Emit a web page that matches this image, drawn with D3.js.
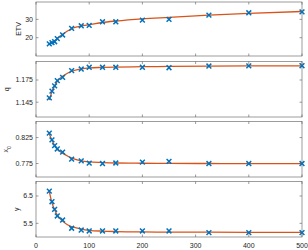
<!DOCTYPE html>
<html>
<head>
<meta charset="utf-8">
<script src="https://cdn.jsdelivr.net/npm/d3@7"></script>
<style>
  body { margin: 0; background: #fff; }
  svg { display: block; }
  text { font-family: "Liberation Sans", Arial, sans-serif; fill: #262626; }
</style>
</head>
<body>
<svg></svg>
<script>
var width = 308, height = 250;
var left = 36, right = 302;

var markerColor = "#0072BD";
var fitColor = "#D95319";
var axisColor = "#5a5a5a";

// sample sizes (shared x)
var xs = [25, 30, 35, 40, 50, 67, 85, 100, 125, 150, 200, 250, 325, 400, 500];
var xTicks = [0, 100, 200, 300, 400, 500];

// measured points
var etv = [16.6, 17.3, 17.8, 19.5, 21.5, 25.1, 26.5, 26.7, 28.7, 28.7, 29.6, 30.0, 32.3, 33.6, 34.1];
var qv  = [1.1508, 1.160, 1.167, 1.1741, 1.1786, 1.1876, 1.1898, 1.1922, 1.1922, 1.1922, 1.1922, 1.1916, 1.1939, 1.1940, 1.1943];
var x0v = [0.8335, 0.8206, 0.8096, 0.803, 0.797, 0.7835, 0.780, 0.7758, 0.775, 0.776, 0.7777, 0.779, 0.775, 0.775, 0.775];
var yv  = [6.68, 6.29, 6.01, 5.77, 5.62, 5.32, 5.255, 5.22, 5.22, 5.22, 5.22, 5.22, 5.16, 5.16, 5.16];

// fitted curves
var fitX   = [25, 30, 35, 40, 50, 60, 70, 85, 100, 125, 150, 200, 250, 325, 400, 500];
var etvFit = [16.4, 17.3, 18.4, 19.6, 21.8, 23.8, 25.3, 26.4, 27.1, 28.3, 29.1, 30.3, 31.1, 32.3, 33.3, 34.3];
var qFit   = [1.148, 1.159, 1.167, 1.173, 1.180, 1.1845, 1.1875, 1.190, 1.1913, 1.192, 1.1925, 1.193, 1.1933, 1.1937, 1.194, 1.1942];
var x0Fit  = [0.832, 0.820, 0.810, 0.803, 0.795, 0.789, 0.7845, 0.780, 0.778, 0.7768, 0.776, 0.7755, 0.7752, 0.775, 0.7748, 0.7746];
var yFit   = [6.66, 6.25, 6.0, 5.8, 5.58, 5.44, 5.36, 5.29, 5.245, 5.215, 5.2, 5.185, 5.18, 5.175, 5.172, 5.17];

var panels = [
  {label: "ETV", pts: etv, fit: etvFit, domain: [10, 39.5], ticks: [20, 30], fmt: d3.format("d"), top: 2, bottom: 56, lx: 19},
  {label: "q", pts: qv, fit: qFit, domain: [1.125, 1.2], ticks: [1.145, 1.175], fmt: d3.format(".3f"), top: 61.5, bottom: 117, lx: 7},
  {label: "x", sub: "0", pts: x0v, fit: x0Fit, domain: [0.749, 0.856], ticks: [0.775, 0.825], fmt: d3.format(".3f"), top: 121.5, bottom: 177, lx: 6},
  {label: "y", pts: yv, fit: yFit, domain: [5, 7.03], ticks: [5.5, 6.5], fmt: d3.format(".1f"), top: 181.5, bottom: 237, lx: 17}
];

var svg = d3.select("svg").attr("width", width).attr("height", height);

var x = d3.scaleLinear().domain([0, 500]).range([left, right]);

var tickLen = 2.5;

panels.forEach(function(p, i) {
  var y = d3.scaleLinear().domain(p.domain).range([p.bottom, p.top]);
  var g = svg.append("g");

  // fitted curve
  var line = d3.line()
      .x(function(d) { return x(d[0]); })
      .y(function(d) { return y(d[1]); })
      .curve(d3.curveMonotoneX);
  g.append("path")
      .datum(fitX.map(function(v, j) { return [v, p.fit[j]]; }))
      .attr("d", line)
      .attr("fill", "none")
      .attr("stroke", fitColor)
      .attr("stroke-width", 1.3);

  // markers
  var s = 2.4;
  g.selectAll(".pt")
    .data(xs.map(function(v, j) { return [v, p.pts[j]]; }))
    .enter().append("path")
      .attr("transform", function(d) { return "translate(" + x(d[0]) + "," + y(d[1]) + ")"; })
      .attr("d", "M" + (-s) + "," + (-s) + "L" + s + "," + s + "M" + (-s) + "," + s + "L" + s + "," + (-s))
      .attr("stroke", markerColor)
      .attr("stroke-width", 1.5)
      .attr("fill", "none");

  // box
  g.append("rect")
      .attr("x", left).attr("y", p.top)
      .attr("width", right - left).attr("height", p.bottom - p.top)
      .attr("fill", "none")
      .attr("stroke", axisColor)
      .attr("stroke-width", 0.6);

  // x ticks (inward, top and bottom)
  xTicks.forEach(function(t) {
    g.append("line").attr("x1", x(t)).attr("x2", x(t))
      .attr("y1", p.bottom).attr("y2", p.bottom - tickLen)
      .attr("stroke", axisColor).attr("stroke-width", 0.6);
    g.append("line").attr("x1", x(t)).attr("x2", x(t))
      .attr("y1", p.top).attr("y2", p.top + tickLen)
      .attr("stroke", axisColor).attr("stroke-width", 0.6);
  });

  // y ticks (inward, left and right)
  p.ticks.forEach(function(t) {
    g.append("line").attr("x1", left).attr("x2", left + tickLen)
      .attr("y1", y(t)).attr("y2", y(t))
      .attr("stroke", axisColor).attr("stroke-width", 0.6);
    g.append("line").attr("x1", right).attr("x2", right - tickLen)
      .attr("y1", y(t)).attr("y2", y(t))
      .attr("stroke", axisColor).attr("stroke-width", 0.6);
    g.append("text")
      .attr("x", left - 3).attr("y", y(t))
      .attr("dy", "0.35em")
      .attr("text-anchor", "end")
      .style("font-size", "7px")
      .text(p.fmt(t));
  });

  // y label
  var lab = g.append("text")
      .attr("transform", "translate(" + p.lx + "," + ((p.top + p.bottom) / 2) + ") rotate(-90)")
      .attr("text-anchor", "middle")
      .attr("dy", "0.35em")
      .style("font-size", "7px")
      .text(p.label);
  if (p.sub) {
    lab.append("tspan").attr("baseline-shift", "sub").style("font-size", "5px").text(p.sub);
  }

  // x tick labels only on the bottom panel
  if (i === panels.length - 1) {
    xTicks.forEach(function(t) {
      g.append("text")
        .attr("x", x(t)).attr("y", p.bottom + 10.5)
        .attr("text-anchor", "middle")
        .style("font-size", "7px")
        .text(t);
    });
  }
});
</script>
</body>
</html>
